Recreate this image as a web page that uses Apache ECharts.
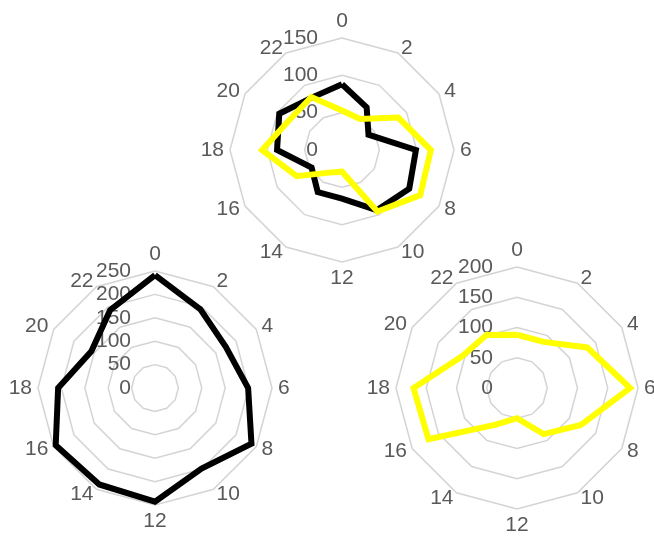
<!DOCTYPE html>
<html>
<head>
<meta charset="utf-8">
<style>
  html, body { margin: 0; padding: 0; background: #ffffff; }
  #chart { width: 654px; height: 537px; }
</style>
<script src="https://cdn.jsdelivr.net/npm/echarts@6/dist/echarts.min.js"></script>
</head>
<body>
<div id="chart"></div>
<script>
// Hour-of-day categories, clockwise from the top
const hours = ['0', '2', '4', '6', '8', '10', '12', '14', '16', '18', '20', '22'];

// Top panel: two series on a 0-150 scale
const topBlack  = [88, 66, 41, 99, 104, 93, 65, 65, 47, 87, 97, 81];
const topYellow = [53, 48, 87, 119, 121, 95, 29, 35, 70, 107, 81, 82];

// Bottom-left panel: 0-250 scale
const leftBlack = [241, 194, 175, 199, 238, 199, 243, 238, 245, 207, 157, 192];

// Bottom-right panel: 0-200 scale
const rightYellow = [88, 88, 134, 187, 122, 88, 50, 70, 169, 171, 105, 101];

// Radial scale per panel: [max, step]
const topScale = [150, 50];
const leftScale = [250, 50];
const rightScale = [200, 50];

const TEXT = '#595959';
const GRID = '#d4d4d4';
const FONT = 'Liberation Sans, Arial, sans-serif';

// ECharts lays indicators counter-clockwise; reorder so hours run clockwise.
function clockwise(arr) {
  return [arr[0]].concat(arr.slice(1).reverse());
}

function makeRadar(center, radius, scale) {
  const [max, step] = scale;
  const names = clockwise(hours);
  return {
    center: center,
    radius: radius,
    startAngle: 90,
    shape: 'polygon',
    splitNumber: max / step,
    axisNameGap: 6,
    axisName: {
      color: TEXT,
      fontSize: 21,
      fontFamily: FONT
    },
    axisLine: { show: false },
    axisTick: { show: false },
    splitArea: { show: false },
    splitLine: { lineStyle: { color: GRID, width: 1.5 } },
    axisLabel: { show: false },
    indicator: names.map((n, i) => {
      const ind = { name: n, min: 0, max: max };
      if (i === 0) {
        // radial value labels only along the top spoke
        ind.axisLabel = {
          show: true,
          color: TEXT,
          fontSize: 21,
          fontFamily: FONT,
          margin: 24,
          showMinLabel: true,
          showMaxLabel: true
        };
      }
      return ind;
    })
  };
}

function makeSeries(radarIndex, values, color) {
  return {
    type: 'radar',
    radarIndex: radarIndex,
    symbol: 'none',
    silent: true,
    animation: false,
    lineStyle: { color: color, width: 6, join: 'miter' },
    data: [{ value: clockwise(values) }]
  };
}

const chart = echarts.init(document.getElementById('chart'), null, { renderer: 'canvas' });
chart.setOption({
  backgroundColor: '#ffffff',
  animation: false,
  radar: [
    makeRadar([342, 150], 112, topScale),
    makeRadar([155, 388], 117, leftScale),
    makeRadar([517, 388], 121, rightScale)
  ],
  series: [
    makeSeries(0, topBlack, '#000000'),
    makeSeries(0, topYellow, '#ffff00'),
    makeSeries(1, leftBlack, '#000000'),
    makeSeries(2, rightYellow, '#ffff00')
  ]
});
</script>
</body>
</html>
